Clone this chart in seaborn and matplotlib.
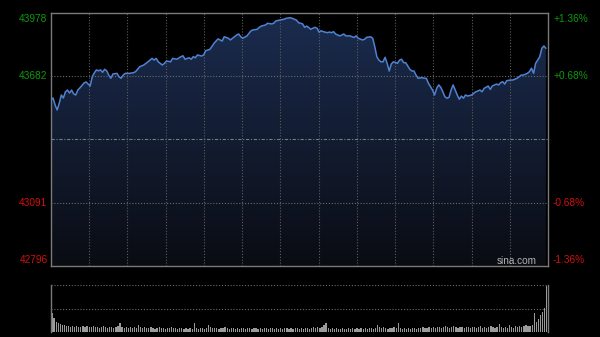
import numpy as np
import pandas as pd
import matplotlib
matplotlib.use("Agg")
import matplotlib.pyplot as plt
import matplotlib.transforms as mtransforms
from matplotlib.colors import LinearSegmentedColormap
import seaborn as sns

# ---------------- data ----------------
minutes = [0, 1, 2, 3, 4, 5, 6, 7, 8, 9, 10, 11, 12, 13, 14, 16, 17, 18, 19, 20,
           21, 22, 23, 24, 25, 26, 27, 28, 29, 30, 32, 33, 34, 35, 36, 38, 40, 41, 42, 43,
           45, 47, 49, 50, 51, 52, 54, 55, 56, 58, 59, 61, 63, 64, 65, 67, 68, 69, 70, 71,
           73, 74, 75, 77, 78, 79, 81, 82, 83, 84, 86, 87, 88, 90, 91, 92, 93, 95, 96, 97,
           98, 100, 101, 102, 104, 105, 107, 108, 109, 111, 113, 114, 116, 117, 119, 120, 121, 122, 123, 124,
           126, 127, 128, 129, 130, 131, 132, 134, 135, 136, 137, 138, 140, 141, 142, 143, 145, 146, 147, 148,
           149, 151, 152, 153, 155, 156, 157, 158, 159, 160, 161, 162, 163, 164, 165, 166, 168, 169, 170, 171,
           172, 174, 175, 176, 177, 178, 180, 181, 182, 183, 185, 186, 187, 188, 189, 190, 191, 192, 193, 194,
           195, 196, 197, 198, 199, 200, 201, 202, 204, 205, 206, 208, 209, 210, 211, 212, 213, 214, 216, 217,
           218, 219, 220, 221, 223, 224, 226, 227, 228, 229, 231, 232, 233, 234, 235, 236, 237, 238, 239, 240]
prices = [43571, 43581, 43548, 43525, 43557, 43595, 43581, 43610, 43618, 43604, 43618, 43600, 43595, 43618, 43628, 43651, 43656, 43646, 43637, 43680,
          43698, 43712, 43708, 43712, 43701, 43715, 43708, 43688, 43673, 43693, 43696, 43680, 43673, 43688, 43696, 43696, 43699, 43704, 43715, 43727,
          43735, 43750, 43766, 43758, 43766, 43750, 43735, 43743, 43754, 43750, 43766, 43762, 43774, 43778, 43762, 43769, 43762, 43774, 43769, 43782,
          43777, 43782, 43802, 43808, 43821, 43836, 43857, 43852, 43847, 43867, 43860, 43852, 43860, 43875, 43880, 43867, 43860, 43871, 43883, 43895,
          43899, 43902, 43911, 43917, 43922, 43930, 43927, 43930, 43941, 43945, 43949, 43953, 43956, 43953, 43945, 43933, 43930, 43927, 43911, 43917,
          43902, 43907, 43911, 43907, 43888, 43895, 43891, 43886, 43889, 43886, 43891, 43880, 43871, 43875, 43880, 43871, 43871, 43867, 43864, 43871,
          43860, 43852, 43855, 43864, 43867, 43860, 43821, 43774, 43758, 43750, 43750, 43771, 43743, 43707, 43740, 43750, 43743, 43758, 43762, 43746,
          43746, 43715, 43707, 43707, 43688, 43673, 43676, 43673, 43673, 43650, 43618, 43595, 43626, 43642, 43631, 43610, 43587, 43580, 43584, 43618,
          43642, 43618, 43595, 43575, 43590, 43580, 43595, 43590, 43595, 43603, 43610, 43618, 43610, 43626, 43631, 43637, 43621, 43637, 43646, 43642,
          43652, 43657, 43646, 43662, 43665, 43665, 43673, 43680, 43688, 43688, 43696, 43704, 43720, 43696, 43743, 43758, 43774, 43813, 43824, 43813]

vol_minutes = list(range(241))
volumes = [19, 14, 10, 9, 8, 7, 7, 6, 6, 5, 6, 5, 6, 5, 5, 6, 5, 6, 5, 5,
           6, 5, 5, 4, 5, 6, 5, 4, 5, 5, 4, 5, 6, 9, 5, 4, 5, 4, 5, 4,
           5, 4, 7, 5, 4, 5, 4, 4, 5, 4, 3, 4, 5, 4, 4, 3, 4, 4, 5, 4,
           4, 3, 4, 4, 3, 4, 3, 4, 3, 9, 4, 3, 4, 4, 3, 4, 7, 5, 4, 4,
           4, 3, 4, 4, 5, 4, 3, 4, 4, 3, 4, 3, 4, 4, 3, 4, 4, 3, 4, 4,
           3, 4, 3, 4, 4, 3, 4, 4, 3, 4, 3, 4, 3, 4, 4, 3, 4, 3, 4, 4,
           3, 4, 3, 4, 4, 3, 4, 5, 4, 5, 4, 5, 7, 9, 4, 3, 4, 3, 4, 3,
           3, 4, 3, 3, 4, 3, 4, 3, 4, 3, 4, 3, 4, 3, 4, 4, 3, 4, 7, 5,
           4, 5, 4, 3, 4, 4, 5, 4, 9, 4, 3, 4, 3, 4, 3, 4, 4, 3, 4, 4,
           5, 4, 4, 5, 4, 5, 4, 5, 5, 4, 5, 6, 5, 4, 5, 6, 5, 4, 5, 5,
           4, 5, 5, 4, 5, 5, 4, 5, 6, 4, 5, 4, 5, 6, 5, 4, 5, 8, 5, 4,
           5, 4, 7, 5, 4, 6, 5, 6, 5, 6, 7, 6, 6, 7, 19, 10, 13, 17, 20, 24, 46]

left_ticks = [43978, 43682, 43091, 42796]
right_labels = ["+1.36%", "+0.68%", "-0.68%", "-1.36%"]
label_colors = ["#0c9a0c", "#0c9a0c", "#d01010", "#d01010"]
prev_close = 43387
y_low, y_high = 42796, 43978
n_minutes = 241
n_columns = 13

price_df = pd.DataFrame({"minute": minutes, "price": prices})
vol_df = pd.DataFrame({"minute": vol_minutes, "volume": volumes})

# ---------------- style ----------------
sns.set_theme(style="dark")
plt.rcParams['font.family'] = ['Liberation Sans', 'DejaVu Sans']

W, H = 600, 337
fig = plt.figure(figsize=(6, 3.37), dpi=100, facecolor="black")
ax = fig.add_axes([51 / W, 1 - 266 / H, 497 / W, 253 / H])
ax2 = fig.add_axes([51 / W, 1 - 332 / H, 497 / W, 47 / H])

for a in (ax, ax2):
    a.set_facecolor("black")
    a.grid(False)
    a.set_xticks([])
    a.set_yticks([])
    a.set_xlabel("")
    a.set_ylabel("")

grid_kw = dict(color="#5c5c5c", lw=0.8, ls=(0, (1, 1.6)), zorder=3)

# ---- gradient fill under the line ----
poly = ax.fill_between(price_df["minute"], price_df["price"], y_low,
                       color="none", lw=0)
cmap = LinearSegmentedColormap.from_list("fill", ["#0a0c13", "#1b2c4f"])
grad = np.linspace(0, 1, 256).reshape(-1, 1)
im = ax.imshow(grad, extent=[0, n_minutes, y_low, y_high], origin="lower",
               aspect="auto", cmap=cmap, zorder=1, interpolation="bicubic")
im.set_clip_path(poly.get_paths()[0], transform=ax.transData)

# ---- grid ----
for k in range(1, n_columns):
    ax.axvline(k * n_minutes / n_columns, **grid_kw)
for v in (left_ticks[1], left_ticks[2]):
    ax.axhline(v, color="#6a6a6a", lw=0.8, ls=(0, (1, 1.6)), zorder=3)
ax.axhline(prev_close, color="#6f7c88", lw=0.8, ls=(0, (3, 1.5, 1, 1.5)), zorder=3)

# ---- price line ----
sns.lineplot(data=price_df, x="minute", y="price", ax=ax, color="#4f82d2",
             lw=1.1, zorder=5)
ax.set_xlim(0, n_minutes)
ax.set_ylim(y_low, y_high)
ax.set_xlabel("")
ax.set_ylabel("")
ax.set_xticks([])
ax.set_yticks([])
for s in ax.spines.values():
    s.set_color("#7a7a7a")
    s.set_linewidth(1.0)
    s.set_visible(True)

# ---- tick labels ----
trans_l = mtransforms.blended_transform_factory(ax.transAxes, ax.transData)
offsets = [-6, 0, 0, 6]
for val, lab, col, dy in zip(left_ticks, right_labels, label_colors, offsets):
    ax.annotate(str(val), xy=(0, val), xycoords=trans_l, xytext=(-3.5, dy),
                textcoords="offset pixels", ha="right", va="center",
                color=col, fontsize=7.3, annotation_clip=False)
    ax.annotate(lab, xy=(1, val), xycoords=trans_l, xytext=(5, dy),
                textcoords="offset pixels", ha="left", va="center",
                color=col, fontsize=7.3, annotation_clip=False)

ax.text(537 / W, 1 - 261 / H, "sina.com", transform=fig.transFigure,
        ha="right", va="center", color="#b4b4b4", fontsize=7.2, zorder=6)

# ---- volume panel ----
sns.barplot(data=vol_df, x="minute", y="volume", ax=ax2, native_scale=True,
            color="#9a9a9a", width=0.6, errorbar=None, saturation=1,
            linewidth=0, edgecolor="none", zorder=2)
ax2.set_xlim(-0.5, n_minutes - 0.3)
ax2.set_ylim(0, 46.5)
ax2.axhline(23.25, color="#6a6a6a", lw=0.8, ls=(0, (1, 1.6)), zorder=3)
ax2.axhline(46.3, color="#6a6a6a", lw=0.8, ls=(0, (1, 1.6)), zorder=3)
ax2.set_xlabel("")
ax2.set_ylabel("")
ax2.set_xticks([])
ax2.set_yticks([])
for name, s in ax2.spines.items():
    s.set_color("#7a7a7a")
    s.set_linewidth(1.0)
    s.set_visible(name in ("left", "right"))

fig.savefig("out.png", dpi=100, facecolor="black")
